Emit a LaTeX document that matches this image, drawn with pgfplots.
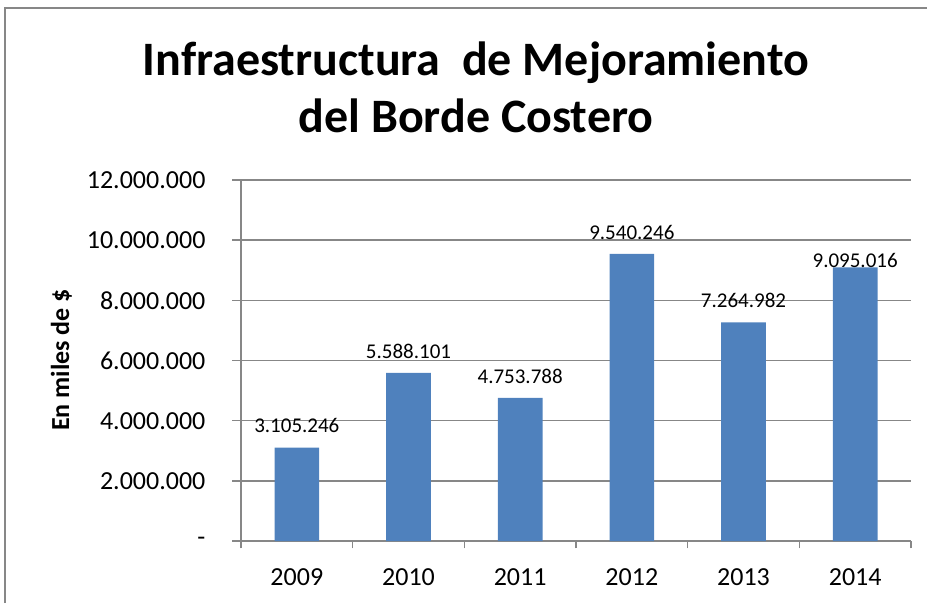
\documentclass[border=0pt]{standalone}
\usepackage{pgfplots}
\pgfplotsset{compat=1.18}
\usepackage{fontspec}
\setmainfont{Carlito}
\definecolor{barblue}{HTML}{4F81BD}
\definecolor{gridgray}{HTML}{878787}

\begin{document}
\begin{tikzpicture}[x=0.75pt,y=0.75pt]
\useasboundingbox (0,0) rectangle (927,603);
% outer chart frame (cropped at right and bottom)
\draw[gridgray, line width=1.1pt] (5,0) -- (5,595) -- (927,595);

% title
\node[anchor=base, font=\bfseries\fontsize{36}{40}\selectfont] at (476,527) {Infraestructura\ \ de Mejoramiento};
\node[anchor=base, font=\bfseries\fontsize{36}{40}\selectfont] at (476,470) {del Borde Costero};
% y label
\node[rotate=90, anchor=base, font=\bfseries\fontsize{19.5}{22}\selectfont] at (69,243) {En miles de \$};

\begin{axis}[
    at={(180.75pt,46.5pt)}, anchor=south west,
    width=502.5pt, height=270.75pt, scale only axis,
    xmin=-0.5, xmax=5.5,
    ymin=0, ymax=12000000,
    scaled y ticks=false,
    axis lines*=left,
    axis line style={gridgray, line width=1.1pt},
    ybar, bar width=0.4,
    xtick={0,1,2,3,4,5},
    xticklabels={2009,2010,2011,2012,2013,2014},
    major x tick style={draw=none},
    minor xtick={-0.5,0.5,1.5,2.5,3.5,4.5,5.5},
    ytick={0,2000000,4000000,6000000,8000000,10000000,12000000},
    yticklabels={-,2.000.000,4.000.000,6.000.000,8.000.000,10.000.000,12.000.000},
    ymajorgrids,
    grid style={gridgray, line width=1.1pt},
    tick align=outside,
    major tick length=6.4pt,
    minor tick length=5.6pt,
    tick style={gridgray, line width=1.1pt},
    ticklabel style={font=\fontsize{19.5}{22}\selectfont, text=black},
    yticklabel style={xshift=-16.75pt},
    xticklabel style={yshift=-10.5pt},
    point meta=explicit symbolic,
    nodes near coords,
]
\addplot[fill=barblue, draw=none,
    visualization depends on={value \thisrow{sh} \as \sh},
    every node near coord/.append style={font=\fontsize{15.75}{18}\selectfont, text=black, yshift=\sh pt}]
    table[x=x, y=y, meta=lab] {
x y lab sh
0 3105246 3.105.246 7.5
1 5588101 5.588.101 7.5
2 4753788 4.753.788 7.5
3 9540246 9.540.246 7.5
4 7264982 7.264.982 7.5
5 9095016 9.095.016 -3.75
};
\end{axis}
\end{tikzpicture}
\end{document}
